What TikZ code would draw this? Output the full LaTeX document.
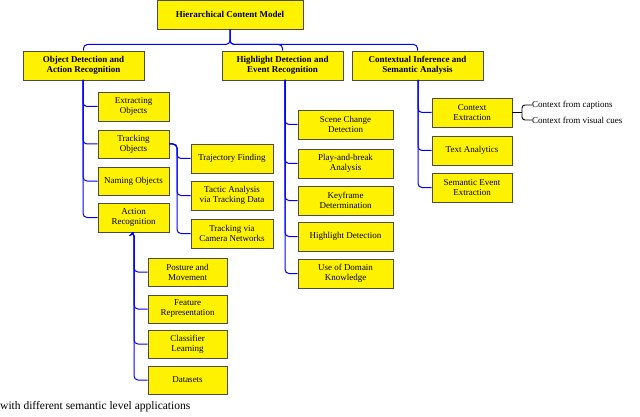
\documentclass[tikz,border=0pt]{standalone}
\usepackage{fontspec}
\setmainfont{Liberation Serif}
\begin{document}
\begin{tikzpicture}[x=1pt,y=-1pt,
 box/.style={draw=black!70,line width=0.9pt,fill=yellow,align=center,inner sep=0pt,font=\fontsize{9}{10}\selectfont},
 hb/.style={box,font=\fontsize{9}{10.5}\selectfont\bfseries},
 ln/.style={blue,line width=1pt,rounded corners=4pt}]
\useasboundingbox (0,0) rectangle (640,417);
\newcommand\bx[6]{\node[#1,minimum width=#4-#3,minimum height=#6-#5] (#2) at ({(#3+#4)/2},{(#5+#6)/2}) {\mytext};}
\def\B#1#2#3#4#5#6#7{\node[#1,minimum width=#4pt-#3pt,minimum height=#6pt-#5pt] (#2) at ({(#3+#4)/2},{(#5+#6)/2}) {#7};}
\B{hb}{root}{157}{303}{0}{29}{Hierarchical Content Model}
\B{hb}{c1}{23}{144}{51}{80}{Object Detection and\\Action Recognition}
\B{hb}{c2}{222}{343}{51}{80}{Highlight Detection and\\Event Recognition}
\B{hb}{c3}{352}{483}{51}{80}{Contextual Inference and\\Semantic Analysis}
\B{box}{a1}{98}{169}{92}{121}{Extracting\\Objects}
\B{box}{a2}{98}{169}{130}{158}{Tracking\\Objects}
\B{box}{a3}{98}{169}{167}{195}{Naming Objects}
\B{box}{a4}{98}{169}{203}{232}{Action\\Recognition}
\B{box}{t1}{191}{273}{144}{173}{Trajectory Finding}
\B{box}{t2}{191}{273}{181}{210}{Tactic Analysis\\via Tracking Data}
\B{box}{t3}{191}{273}{219}{248}{Tracking via\\Camera Networks}
\B{box}{r1}{148}{227}{258}{286}{Posture and\\Movement}
\B{box}{r2}{148}{227}{295}{323}{Feature\\Representation}
\B{box}{r3}{148}{227}{330}{358}{Classifier\\Learning}
\B{box}{r4}{148}{227}{366}{394}{Datasets}
\B{box}{h1}{298}{393}{110}{139}{Scene Change\\Detection}
\B{box}{h2}{298}{393}{149}{178}{Play-and-break\\Analysis}
\B{box}{h3}{298}{393}{186}{215}{Keyframe\\Determination}
\B{box}{h4}{298}{393}{222}{251}{Highlight Detection}
\B{box}{h5}{298}{393}{259}{288}{Use of Domain\\Knowledge}
\B{box}{s1}{432}{512}{98}{127}{Context\\Extraction}
\B{box}{s2}{432}{512}{136}{165}{Text Analytics}
\B{box}{s3}{432}{512}{173}{202}{Semantic Event\\Extraction}
% top bus
\draw[ln] (root.south) -- ++(0,15) -| (c1.north);
\draw[ln] (root.south) -- ++(0,15) -| (c2.north);
\draw[ln] (root.south) -- ++(0,15) -| (c3.north);
\foreach \n in {a1,a2,a3,a4}{\draw[ln] (83,80) |- (\n.west);}
\foreach \n in {t1,t2,t3}{\draw[ln] (a2.east) -- (177,144) |- (\n.west);}
\foreach \n in {r1,r2,r3,r4}{\draw[ln] (a4.south) -- (134,232) |- (\n.west);}
\foreach \n in {h1,h2,h3,h4,h5}{\draw[ln] (285,80) |- (\n.west);}
\foreach \n in {s1,s2,s3}{\draw[ln] (418,80) |- (\n.west);}
% brace
\node[anchor=west,inner sep=0pt,font=\fontsize{9}{10}\selectfont] (k1) at (532,105) {Context from captions};
\node[anchor=west,inner sep=0pt,font=\fontsize{9}{10}\selectfont] (k2) at (532,120) {Context from visual cues};
\draw[line width=0.9pt,rounded corners=3pt] (s1.east) -- (522,112.5);
\draw[line width=0.9pt,rounded corners=3pt] (k1.west) -- (522,105) -- (522,120) -- (k2.west);
\node[anchor=west,inner sep=0pt,font=\fontsize{11.5}{12}\selectfont] (cap) at (0,407) {with different semantic level applications};
\end{tikzpicture}
\end{document}
